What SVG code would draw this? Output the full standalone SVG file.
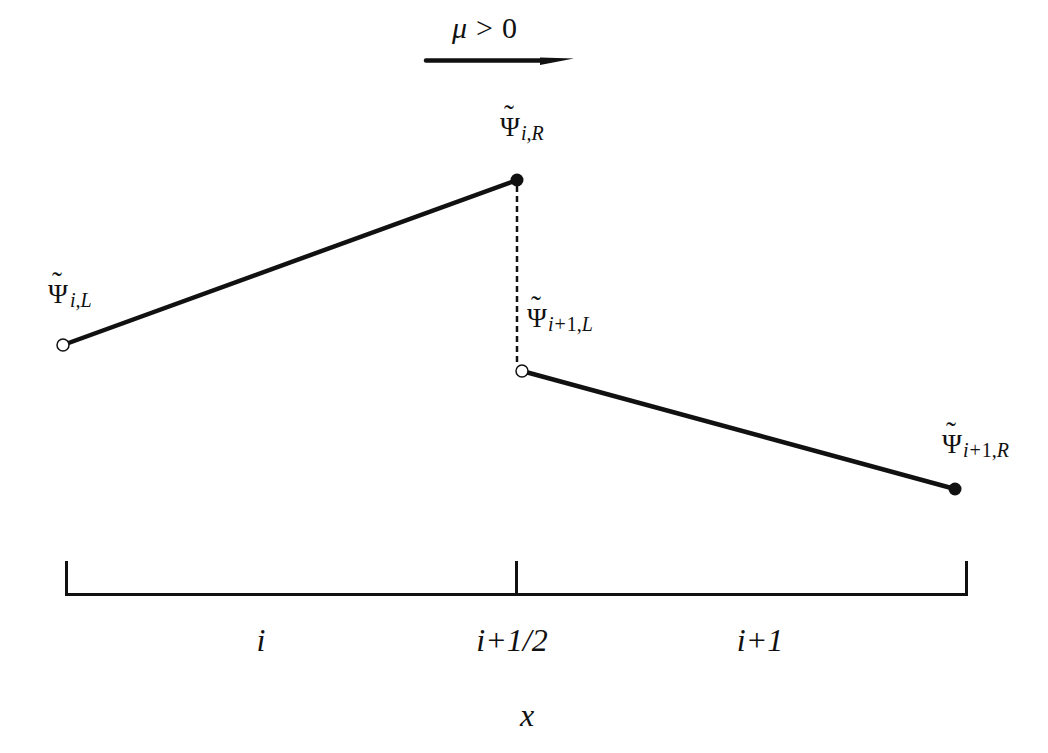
<svg xmlns="http://www.w3.org/2000/svg" width="1048" height="753" viewBox="0 0 1048 753">
<style>
.ln{stroke:#111;stroke-width:4.5;fill:none;stroke-linecap:round}
.ax{stroke:#111;stroke-width:3;fill:none}
.m{font-family:"Liberation Serif","DejaVu Serif",serif;fill:#111}
.psi{font-size:27px}
.tl{font-size:30px}
.sub{font-size:20px;font-style:italic}
.up{font-style:normal}
.lab{font-size:32px;font-style:italic}
.open{fill:#fff;stroke:#111;stroke-width:1.5}
.fill{fill:#111}
</style>
<rect width="1048" height="753" fill="#fff"/>
<g id="connectors">
<line class="ln" x1="426" y1="60.5" x2="545" y2="60.5"/>
<polygon class="fill" points="540,57.5 574,58.5 540,65"/>
<line class="ln" x1="63" y1="345" x2="517" y2="180"/>
<line stroke="#111" stroke-width="2.5" stroke-dasharray="6,4" x1="517" y1="186" x2="517" y2="366"/>
<line class="ln" x1="522" y1="371" x2="955" y2="489"/>
<line class="ax" x1="66" y1="594.5" x2="966" y2="594.5"/>
<line class="ax" x1="66.5" y1="561" x2="66.5" y2="596"/>
<line class="ax" x1="516.5" y1="561" x2="516.5" y2="596"/>
<line class="ax" x1="966.5" y1="561" x2="966.5" y2="596"/>
</g>
<g id="node-iL">
<circle class="open" cx="63" cy="345" r="6"/>
<text class="m"><tspan class="tl" x="52" y="292">˜</tspan><tspan class="psi" x="48" y="303">Ψ</tspan><tspan class="sub" x="70" y="307">i,L</tspan></text>
</g>
<g id="node-iR">
<circle class="fill" cx="517" cy="180" r="6.5"/>
<text class="m"><tspan class="tl" x="504" y="125">˜</tspan><tspan class="psi" x="500" y="136">Ψ</tspan><tspan class="sub" x="521" y="140">i,R</tspan></text>
</g>
<g id="node-i1L">
<circle class="open" cx="522" cy="371" r="6"/>
<text class="m"><tspan class="tl" x="531" y="316">˜</tspan><tspan class="psi" x="527" y="327">Ψ</tspan><tspan class="sub" x="548" y="331">i<tspan class="up" dx="1">+</tspan><tspan class="up" dx="1">1,</tspan>L</tspan></text>
</g>
<g id="node-i1R">
<circle class="fill" cx="955" cy="489" r="6.5"/>
<text class="m"><tspan class="tl" x="946" y="442">˜</tspan><tspan class="psi" x="942" y="453">Ψ</tspan><tspan class="sub" x="963" y="457">i<tspan class="up" dx="1">+</tspan><tspan class="up" dx="1">1,</tspan>R</tspan></text>
</g>
<g id="labels">
<text class="m" x="452" y="38" font-size="30"><tspan font-style="italic">μ</tspan><tspan dx="9">&gt;</tspan><tspan dx="9">0</tspan></text>
<text class="m lab" x="261" y="651" text-anchor="middle">i</text>
<text class="m lab" x="512" y="651" text-anchor="middle">i+1/2</text>
<text class="m lab" x="760" y="651" text-anchor="middle">i+1</text>
<text class="m lab" x="527" y="726" text-anchor="middle" font-size="38">x</text>
</g>
</svg>
